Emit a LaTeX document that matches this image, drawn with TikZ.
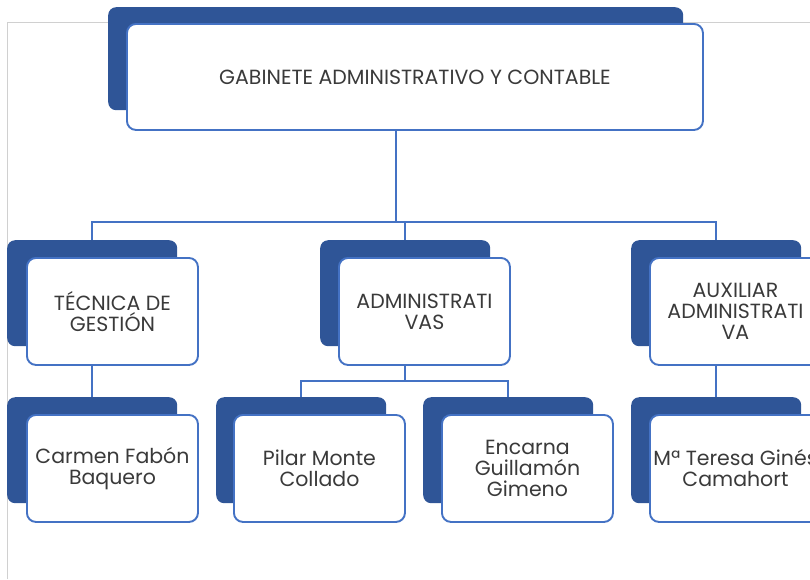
\documentclass[tikz,border=0pt]{standalone}
\usepackage{fontspec}
\setmainfont{Poppins}
\definecolor{darkblue}{HTML}{2F5597}
\definecolor{midblue}{HTML}{4472C4}
\definecolor{textgray}{HTML}{3A3A3A}
\definecolor{framegray}{HTML}{D0D0D0}
\pgfdeclarelayer{background}
\pgfsetlayers{background,main}
\tikzset{
  backbox/.style={fill=darkblue, draw=none, rounded corners=8pt, anchor=north west, inner sep=0pt,
    minimum width=170pt, minimum height=106pt},
  frontbox/.style={fill=white, draw=midblue, line width=1.9pt, rounded corners=9pt, anchor=north west,
    inner sep=0pt, minimum width=171pt, minimum height=107pt, align=center, text=textgray,
    font=\fontsize{20.5pt}{21pt}\selectfont},
  link/.style={draw=midblue, line width=1.9pt},
}
\begin{document}
\begin{tikzpicture}[x=1pt,y=-1pt]
\useasboundingbox (0,0) rectangle (810,579);
\clip (0,0) rectangle (810,579);
% top
\node[backbox, minimum width=575pt, minimum height=103pt] (gbk) at (108,7) {};
\node[frontbox, minimum width=576pt, minimum height=106pt] (gfr) at (126,23) {GABINETE ADMINISTRATIVO Y CONTABLE};
% level 2
\node[backbox] (tbk) at (7,240) {};
\node[frontbox] (tfr) at (26,257) {TÉCNICA DE\\GESTIÓN};
\node[backbox] (abk) at (320,240) {};
\node[frontbox] (afr) at (338,257) {ADMINISTRATI\\VAS};
\node[backbox] (xbk) at (631,240) {};
\node[frontbox] (xfr) at (649,257) {AUXILIAR\\ADMINISTRATI\\VA};
% level 3
\node[backbox] (cbk) at (7,397) {};
\node[frontbox] (cfr) at (26,414) {Carmen Fabón\\Baquero};
\node[backbox] (pbk) at (216,397) {};
\node[frontbox] (pfr) at (233,414) {Pilar Monte\\Collado};
\node[backbox] (ebk) at (423,397) {};
\node[frontbox] (efr) at (441,414) {Encarna\\Guillamón\\Gimeno};
\node[backbox] (mbk) at (631,397) {};
\node[frontbox] (mfr) at (649,414) {Mª Teresa Ginés\\Camahort};
\coordinate (bus1) at (0,222);
\coordinate (bus2) at (0,381);
\coordinate (fa) at (7,579);
\coordinate (fb) at (7,22);
\coordinate (fc) at (810,22);
\begin{pgfonlayer}{background}
\draw[framegray, line width=0.8pt] (fa) -- (fb) -- (fc);
\draw[link] (gbk.south) -- (gbk.south |- bus1) -| (tbk.north);
\draw[link] (gbk.south |- bus1) -| (abk.north);
\draw[link] (gbk.south |- bus1) -| (xbk.north);
\draw[link] (tbk.south) -- (cbk.north);
\draw[link] (abk.south) -- (abk.south |- bus2) -| (pbk.north);
\draw[link] (abk.south |- bus2) -| (ebk.north);
\draw[link] (xbk.south) -- (mbk.north);
\end{pgfonlayer}
\end{tikzpicture}
\end{document}
